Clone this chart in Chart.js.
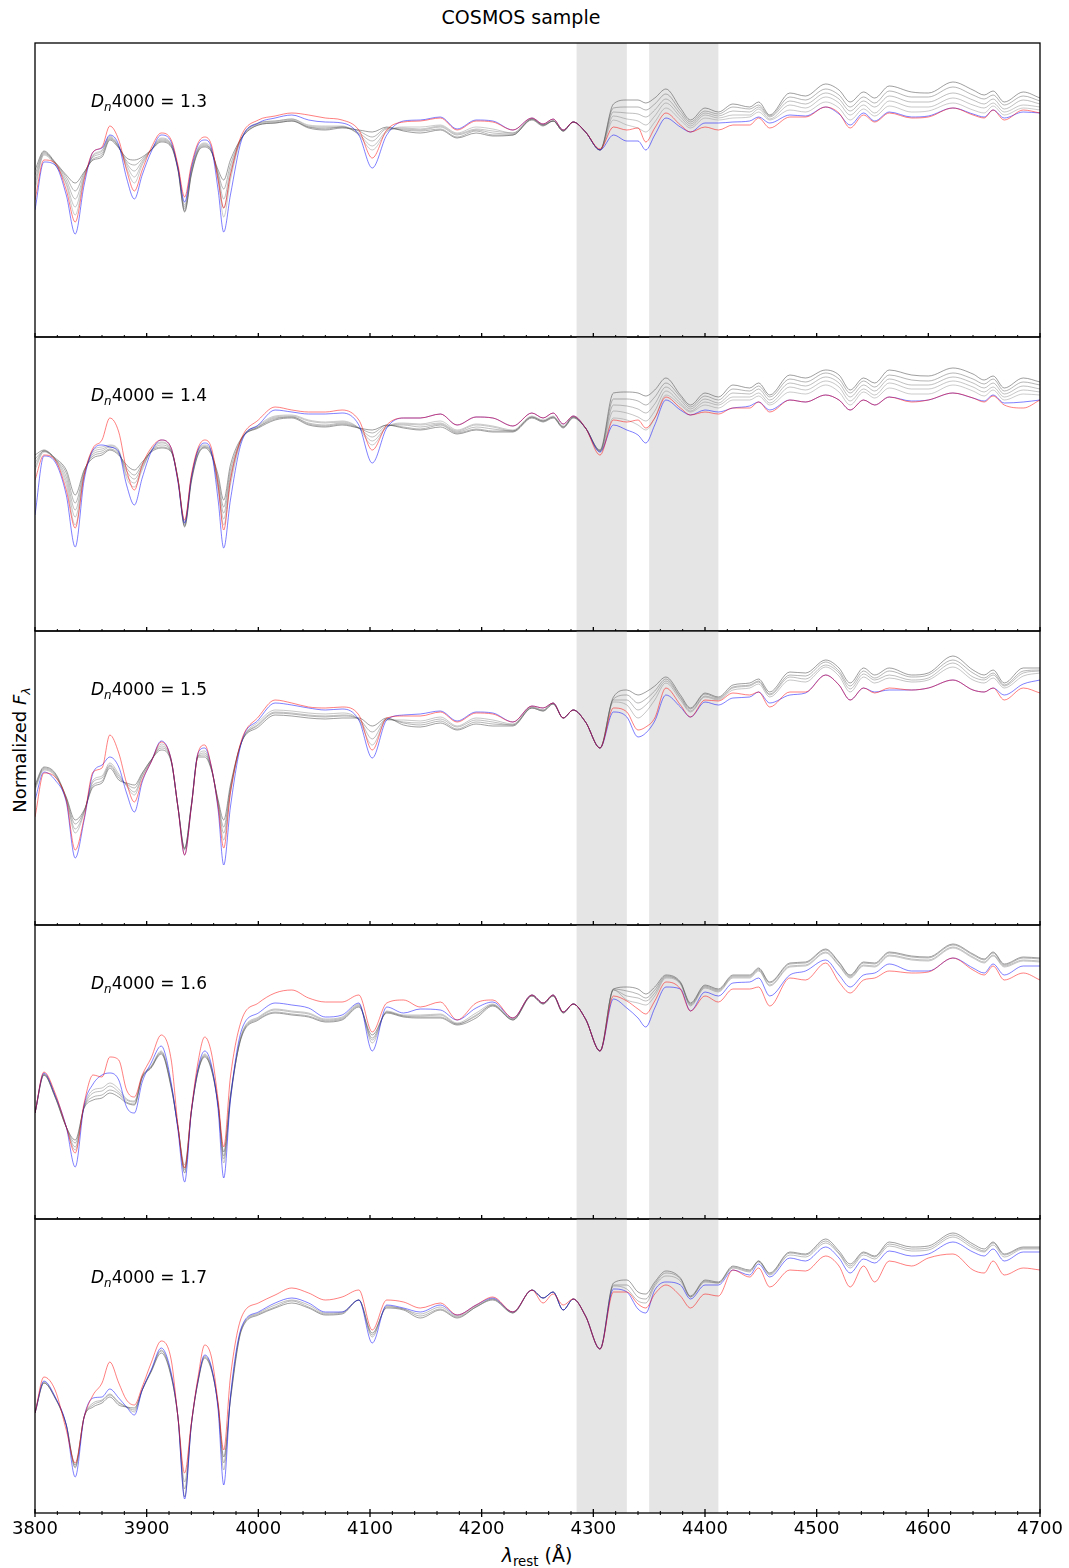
<!DOCTYPE html>
<html>
<head>
<meta charset="utf-8">
<script src="https://cdn.jsdelivr.net/npm/chart.js@4/dist/chart.umd.min.js"></script>
<style>
  body { margin: 0; background: #fff; width: 1069px; height: 1568px; position: relative; overflow: hidden;
         font-family: "DejaVu Sans", sans-serif; color: #000; }
  canvas { position: absolute; left: 0; }
  .txt { position: absolute; white-space: nowrap; line-height: 20px; }
  sub { font-size: 70%; vertical-align: -0.3em; line-height: 0; }
  #title { left: 521px; top: 7px; font-size: 19px; transform: translateX(-50%); }
  #ylabel { left: 20px; top: 750px; font-size: 18px; transform: translate(-50%, -50%) rotate(-90deg); }
  #xlabel { left: 537px; top: 1545px; font-size: 19px; transform: translateX(-50%); }
  .ann { left: 91px; font-size: 17px; }
</style>
</head>
<body>
<div id="title" class="txt">COSMOS sample</div>
<div id="ylabel" class="txt">Normalized <i>F</i><sub><i>λ</i></sub></div>
<div id="xlabel" class="txt"><i>λ</i><sub>rest</sub> (Å)</div>
<script>
// wavelength grid (Å) shared by every spectrum
const wave = [3800,3808,3818,3828,3836,3844,3852,3860,3867,3875,3882,3889,3896,3904,3913,3922,3928,3934,3940,3946,
  3952,3958,3964,3969,3975,3985,4000,4015,4030,4045,4060,4075,4090,4102,4115,4130,4145,4163,4178,4195,
  4210,4228,4245,4255,4264,4273,4282,4293,4306,4318,4330,4340,4347,4355,4365,4378,4387,4400,4412,4425,
  4440,4448,4458,4476,4490,4508,4520,4530,4542,4552,4565,4585,4600,4622,4640,4650,4658,4668,4685,4700];

const xTicks = [3800, 3900, 4000, 4100, 4200, 4300, 4400, 4500, 4600, 4700];
const minorStep = 20;
const bands = [[4285, 4330], [4350, 4412]];
const dnValues = ['1.3', '1.4', '1.5', '1.6', '1.7'];

// flux, arbitrary units (one panel spans 0..294)
const p1Red = [137,177,174,147,115,157,185,190,211,197,167,146,167,189,204,197,172,140,172,194,
  200,192,157,129,162,202,217,221,224,222,219,217,207,179,207,215,216,219,207,216,
  215,207,219,213,218,207,215,205,188,210,207,209,195,209,224,212,205,210,207,212,
  212,219,209,220,220,230,224,209,222,215,224,219,220,229,222,219,227,217,227,224];
const p1Blue = [127,175,172,142,103,152,185,189,202,192,159,138,162,185,202,195,169,135,169,192,
  197,189,147,105,142,197,214,219,222,217,215,214,202,169,202,216,217,220,208,217,
  216,207,219,213,218,207,215,205,187,202,196,196,187,202,219,210,205,214,214,215,
  216,220,214,222,221,230,223,212,224,216,225,220,221,229,223,220,227,219,225,224];
const p1Grey1 = [167,186,175,162,154,165,177,180,197,189,179,177,180,187,195,190,167,125,162,185,
  190,185,167,157,177,199,212,214,216,209,207,209,207,205,210,206,204,207,199,204,
  201,202,217,211,216,206,215,205,187,233,237,237,234,239,248,229,217,229,225,233,
  230,235,222,244,241,253,247,235,245,239,251,245,244,255,247,242,246,235,245,239];
const p1Grey2 = [162,185,174,160,146,164,178,182,198,190,176,172,178,187,196,191,168,126,163,186,
  191,186,164,148,172,199,212,214,216,210,208,210,206,200,209,207,206,208,200,206,
  202,202,218,212,216,206,215,205,187,229,230,230,227,233,243,226,215,226,223,230,
  228,232,221,240,237,248,242,230,240,234,246,240,240,250,242,238,242,232,241,236];
const p1Grey3 = [157,184,174,157,138,162,180,184,199,190,174,166,176,187,197,192,168,128,164,187,
  192,186,162,138,167,199,213,215,217,210,209,210,204,196,208,208,207,210,202,207,
  204,203,218,212,216,206,215,205,187,225,224,223,220,227,238,223,213,224,221,226,
  225,230,220,236,233,244,238,226,236,230,241,235,235,244,237,233,238,228,237,233];
const p1Grey4 = [152,183,173,154,130,160,181,186,200,190,172,160,174,187,198,192,169,130,166,188,
  193,186,160,129,162,199,214,216,218,211,210,210,203,191,206,209,208,211,203,208,
  206,204,218,212,216,206,215,205,187,221,218,216,212,221,234,220,211,222,219,222,
  222,228,218,232,229,240,234,222,232,224,236,230,230,239,232,229,234,225,232,230];
const p1Grey5 = [147,182,172,152,122,159,182,187,201,191,169,154,172,187,199,193,170,132,167,189,
  194,187,157,120,157,199,214,216,218,212,211,211,202,187,205,210,210,212,204,210,
  208,204,218,212,217,207,215,205,187,217,212,209,205,215,229,217,209,219,217,219,
  220,225,217,227,225,235,229,217,228,221,231,225,226,234,227,224,231,222,229,227];

const p2Red = [151,176,171,141,103,156,183,191,213,199,161,141,166,183,191,183,151,111,156,183,
  191,183,146,101,151,193,211,224,221,219,219,221,211,181,206,213,213,217,206,214,
  213,205,218,213,218,207,215,203,176,211,209,211,203,213,234,223,216,219,217,223,
  223,229,219,231,229,236,231,221,231,226,234,229,231,238,233,229,235,226,223,231];
const p2Blue = [116,175,169,136,84,151,181,186,184,179,146,126,153,179,191,183,149,108,153,181,
  188,179,131,83,131,189,206,221,219,217,217,218,206,168,203,213,213,217,206,214,
  213,205,218,213,218,207,215,203,179,206,201,196,188,206,231,221,216,221,219,223,
  225,229,221,231,229,236,231,221,231,226,234,230,231,238,233,230,236,228,229,231];
const p2Grey1 = [176,181,173,161,136,161,173,176,181,176,166,161,169,179,183,179,151,104,149,176,
  183,176,156,131,166,193,203,211,213,206,204,206,203,201,206,203,201,204,197,201,
  199,199,213,209,213,203,213,203,181,238,239,238,235,241,253,236,226,238,234,246,
  243,248,236,256,253,261,256,241,253,248,261,256,255,263,257,251,255,243,253,249];
const p2Grey2 = [172,180,172,158,128,160,175,178,182,177,163,156,167,180,184,180,152,105,150,177,
  184,177,152,124,161,192,204,212,214,207,205,207,203,198,206,204,202,206,198,202,
  200,200,214,210,214,204,214,203,180,232,232,230,226,234,248,234,224,235,231,242,
  240,245,234,252,249,258,252,238,250,244,256,251,250,258,252,247,252,240,249,246];
const p2Grey3 = [168,180,172,154,121,158,177,180,184,178,160,152,165,180,186,180,152,106,152,178,
  184,178,148,118,156,192,204,213,214,208,206,208,203,194,205,206,204,207,199,204,
  202,200,214,210,214,204,214,203,180,226,225,222,218,227,244,231,222,232,228,238,
  237,242,231,248,245,254,248,234,246,240,252,246,246,254,248,243,248,237,245,242];
const p2Grey4 = [164,180,172,150,114,156,179,182,185,180,156,148,163,180,188,180,152,108,153,180,
  185,178,144,112,151,192,205,214,215,210,208,209,203,190,204,207,206,208,200,206,
  204,200,214,210,214,204,214,203,180,220,218,214,210,220,240,228,220,229,226,234,
  234,238,228,244,241,250,244,230,242,236,248,242,242,250,244,239,244,234,241,239];
const p2Grey5 = [161,179,171,146,106,155,181,184,186,181,153,144,161,181,189,181,153,109,154,181,
  186,179,141,106,146,191,206,215,216,211,209,210,203,186,204,208,207,210,201,207,
  205,201,215,211,215,205,214,203,179,213,211,206,201,213,236,226,219,226,223,231,
  231,235,226,239,237,246,239,226,239,233,243,237,237,246,240,235,241,231,237,236];

const p3Red = [108,152,148,125,75,107,153,157,190,172,142,123,145,163,183,165,118,70,118,172,
  180,158,118,77,132,185,208,225,222,218,217,218,210,175,207,209,209,213,203,212,
  211,203,219,217,222,207,215,203,177,217,213,195,198,207,237,220,208,225,224,232,
  230,233,218,233,233,250,240,225,237,232,237,235,237,245,235,233,237,225,237,232];
const p3Blue = [125,153,145,123,67,105,152,160,168,158,132,113,143,163,184,165,118,70,118,172,
  177,158,115,60,118,183,205,222,220,217,215,216,205,167,205,210,211,214,204,213,
  212,203,219,217,222,207,215,203,177,213,208,188,192,204,230,218,208,223,220,227,
  228,233,222,230,232,250,240,225,237,233,235,235,237,245,235,233,237,230,241,245];
const p3Grey1 = [140,158,152,128,105,115,138,142,157,145,142,140,152,165,175,163,118,77,120,168,
  168,155,125,105,140,183,198,210,209,207,206,207,207,199,207,200,198,202,195,201,
  199,199,217,214,221,207,215,203,177,228,235,230,233,239,248,230,217,232,228,240,
  242,246,233,253,252,265,257,242,257,250,257,250,252,269,255,250,255,242,257,257];
const p3Grey2 = [138,157,151,127,101,114,140,144,159,147,141,137,151,165,177,164,118,76,120,169,
  170,156,123,98,137,183,200,212,211,209,208,209,206,193,206,202,200,204,196,203,
  201,200,217,214,221,207,215,203,177,226,230,222,226,234,246,228,216,231,227,238,
  240,244,231,250,249,263,254,239,254,247,254,248,250,265,252,247,252,240,254,255];
const p3Grey3 = [137,156,150,126,96,113,143,147,160,149,140,133,149,164,179,164,118,76,119,169,
  172,156,122,92,135,183,201,213,212,210,209,210,206,186,206,203,202,206,198,205,
  203,200,218,215,222,207,215,203,177,225,225,215,220,230,244,227,214,229,226,237,
  239,243,230,248,246,260,252,236,251,245,250,245,247,262,248,245,250,239,252,254];
const p3Grey4 = [135,155,149,125,92,112,145,149,162,151,139,130,148,164,181,165,118,75,119,170,
  174,157,120,85,132,183,203,215,214,212,211,212,205,180,205,205,204,208,199,207,
  205,201,218,215,222,207,215,203,177,223,220,207,213,225,242,225,213,228,225,235,
  237,241,228,245,243,258,249,233,248,242,247,243,245,258,245,242,247,237,249,252];

const p4Red = [106,147,126,92,66,116,144,142,162,159,129,122,144,161,184,159,94,51,109,157,
  182,166,119,72,142,199,216,226,229,221,217,217,224,187,216,219,212,217,199,216,
  219,201,224,216,224,207,215,200,168,223,218,210,205,218,237,230,208,223,217,230,
  230,232,213,241,239,256,237,226,239,241,248,246,247,261,249,244,253,239,246,239];
const p4Blue = [106,146,124,92,52,114,135,144,146,139,112,106,137,156,173,136,89,37,107,151,
  168,154,109,41,119,189,206,216,214,211,202,204,216,168,212,206,210,209,199,211,
  217,201,224,216,224,207,215,200,168,220,211,201,192,211,232,230,208,227,223,236,
  237,241,223,244,248,259,244,232,244,246,255,248,248,261,251,246,255,244,253,253];
const p4Grey1 = [106,144,122,92,79,111,119,121,126,122,116,114,141,151,165,131,92,46,107,147,
  162,149,114,67,124,182,199,206,204,202,197,199,212,184,206,202,201,201,194,201,
  213,199,223,215,223,206,215,200,168,230,232,230,225,232,244,237,216,234,230,244,
  244,251,237,256,257,270,257,244,257,256,267,263,262,275,265,260,267,255,262,261];
const p4Grey2 = [106,144,122,92,76,112,122,124,129,125,117,115,142,152,166,132,92,49,107,148,
  163,150,114,63,122,183,200,207,205,203,198,200,213,181,207,203,202,202,195,203,
  214,199,223,215,223,206,215,200,168,230,228,225,221,229,243,236,215,233,229,243,
  243,250,236,255,256,269,256,243,256,255,266,262,261,274,264,259,266,254,261,260];
const p4Grey3 = [106,145,123,92,72,112,126,128,133,127,119,117,142,152,167,133,92,51,108,148,
  164,151,114,60,120,184,201,209,207,205,199,201,214,179,207,203,203,204,195,204,
  214,200,224,216,224,207,215,200,168,229,223,221,218,226,242,236,214,232,228,242,
  242,249,234,253,254,267,254,242,254,253,264,260,259,272,262,257,264,253,259,258];
const p4Grey4 = [106,145,123,92,69,113,129,131,136,130,120,118,143,153,168,134,92,54,108,149,
  165,152,114,56,119,185,202,210,208,206,200,202,215,176,208,204,204,205,196,206,
  215,200,224,216,224,207,215,200,168,229,219,216,214,223,241,235,213,231,227,241,
  241,248,233,252,253,266,253,241,253,252,263,259,258,271,261,256,263,252,258,257];

const p5Red = [100,136,123,83,50,96,118,130,151,130,113,108,126,150,172,153,96,40,90,136,
  168,156,110,63,136,196,210,218,225,220,213,216,223,183,213,211,205,210,198,208,
  216,201,223,210,219,208,214,197,164,221,221,209,205,219,228,217,205,219,217,243,
  236,245,226,243,242,257,247,226,247,231,252,247,255,259,243,240,252,238,245,243];
const p5Blue = [100,132,116,88,36,96,115,116,124,115,106,98,123,143,165,140,96,14,88,133,
  158,146,103,28,116,186,201,210,215,210,201,201,213,170,208,205,201,208,198,208,
  215,201,223,215,221,203,214,197,164,224,221,204,200,223,231,228,214,228,228,243,
  238,249,236,255,252,266,255,240,254,250,262,257,259,271,261,257,264,252,261,261];
const p5Grey1 = [100,130,115,88,48,96,106,110,116,108,106,105,123,141,160,136,96,16,88,131,
  155,143,108,56,113,183,198,205,210,205,198,199,213,180,205,203,195,203,195,206,
  213,200,223,215,221,203,214,197,164,230,233,221,219,231,242,235,217,233,231,247,
  243,252,240,261,259,274,262,249,261,257,271,266,267,280,269,264,271,259,266,266];
const p5Grey2 = [100,130,115,88,46,96,108,112,118,110,106,103,123,142,162,137,96,24,88,132,
  156,144,107,50,114,184,199,206,212,206,199,200,213,178,206,204,197,204,196,206,
  214,200,223,215,221,203,214,197,164,228,228,216,214,229,240,234,216,232,230,246,
  242,252,239,260,258,272,260,247,260,256,269,264,265,278,267,262,270,258,265,265];
const p5Grey3 = [100,131,116,88,45,96,110,113,119,111,106,101,123,142,163,138,96,31,89,132,
  157,145,106,43,115,185,200,208,213,208,200,201,213,176,207,204,199,206,197,207,
  214,201,223,215,221,203,214,197,164,227,224,212,210,227,237,232,216,231,230,245,
  241,251,238,258,256,270,259,245,258,254,267,262,263,276,265,261,268,256,264,264];

const panels = [
  { red: p1Red, blue: p1Blue, greys: [p1Grey1, p1Grey2, p1Grey3, p1Grey4, p1Grey5] },
  { red: p2Red, blue: p2Blue, greys: [p2Grey1, p2Grey2, p2Grey3, p2Grey4, p2Grey5] },
  { red: p3Red, blue: p3Blue, greys: [p3Grey1, p3Grey2, p3Grey3, p3Grey4] },
  { red: p4Red, blue: p4Blue, greys: [p4Grey1, p4Grey2, p4Grey3, p4Grey4] },
  { red: p5Red, blue: p5Blue, greys: [p5Grey1, p5Grey2, p5Grey3] }
];

const greyColours = ['rgba(80,80,80,0.55)', 'rgba(110,110,110,0.5)', 'rgba(128,128,128,0.5)',
  'rgba(128,128,128,0.45)', 'rgba(140,140,140,0.45)'];

const PANEL_TOP = 43, PANEL_H = 294;

// shaded windows, frame and inward/outward ticks
const panelDecor = {
  id: 'panelDecor',
  beforeDatasetsDraw(chart) {
    const { ctx, chartArea: a, scales: { x } } = chart;
    ctx.save();
    ctx.fillStyle = '#e5e5e5';
    for (const [lo, hi] of bands) {
      const x0 = x.getPixelForValue(lo);
      ctx.fillRect(x0, a.top, x.getPixelForValue(hi) - x0, a.bottom - a.top);
    }
    ctx.restore();
  },
  afterDraw(chart, args, opts) {
    const { ctx, chartArea: a, scales: { x } } = chart;
    ctx.save();
    ctx.strokeStyle = '#000';
    for (let v = x.min; v <= x.max; v += minorStep) {
      const major = xTicks.includes(v);
      const len = major ? 4 : 2;
      const px = x.getPixelForValue(v);
      ctx.lineWidth = major ? 1.3 : 1;
      ctx.beginPath();
      ctx.moveTo(px, a.bottom - len);
      ctx.lineTo(px, a.bottom + (opts.outward ? len : 0));
      ctx.stroke();
    }
    ctx.lineWidth = 1.3;
    ctx.strokeRect(a.left, a.top, a.right - a.left, a.bottom - a.top);
    ctx.restore();
  }
};

const pointsOf = vals => vals.map((v, i) => ({ x: wave[i], y: v }));

panels.forEach((p, k) => {
  const last = k === panels.length - 1;
  const top = PANEL_TOP + PANEL_H * k;

  const canvas = document.createElement('canvas');
  canvas.width = 1069;
  canvas.height = last ? PANEL_H + 54 : PANEL_H + 8;
  canvas.style.top = (top - 4) + 'px';
  document.body.appendChild(canvas);

  const ann = document.createElement('div');
  ann.className = 'txt ann';
  ann.style.top = (top + 48) + 'px';
  ann.innerHTML = '<i>D</i><sub><i>n</i></sub>4000 = ' + dnValues[k];
  document.body.appendChild(ann);

  const datasets = [
    { data: pointsOf(p.red), borderColor: 'rgba(255,0,0,0.5)' },
    { data: pointsOf(p.blue), borderColor: 'rgba(0,0,255,0.5)' }
  ];
  p.greys.forEach((g, j) => datasets.push({ data: pointsOf(g), borderColor: greyColours[j] }));

  const xScale = {
    type: 'linear', min: 3800, max: 4700, display: last,
    afterBuildTicks: s => { s.ticks = xTicks.map(v => ({ value: v })); },
    grid: { display: false, drawTicks: false },
    border: { display: false },
    ticks: {
      callback: v => String(v),
      font: { family: 'DejaVu Sans', size: 18 },
      color: '#000', padding: 6, maxRotation: 0, autoSkip: false
    }
  };
  if (last) xScale.afterFit = s => { s.height = 50; };

  new Chart(canvas, {
    type: 'line',
    data: { datasets },
    options: {
      responsive: false,
      animation: false,
      devicePixelRatio: 1,
      layout: { padding: { left: 35, right: 29, top: 4, bottom: last ? 0 : 4 } },
      elements: {
        point: { radius: 0 },
        line: { borderWidth: 1, cubicInterpolationMode: 'monotone', fill: false }
      },
      plugins: {
        legend: { display: false },
        tooltip: { enabled: false },
        panelDecor: { outward: last }
      },
      scales: {
        x: xScale,
        y: { min: 0, max: PANEL_H, display: false }
      }
    },
    plugins: [panelDecor]
  });
});
</script>
</body>
</html>
